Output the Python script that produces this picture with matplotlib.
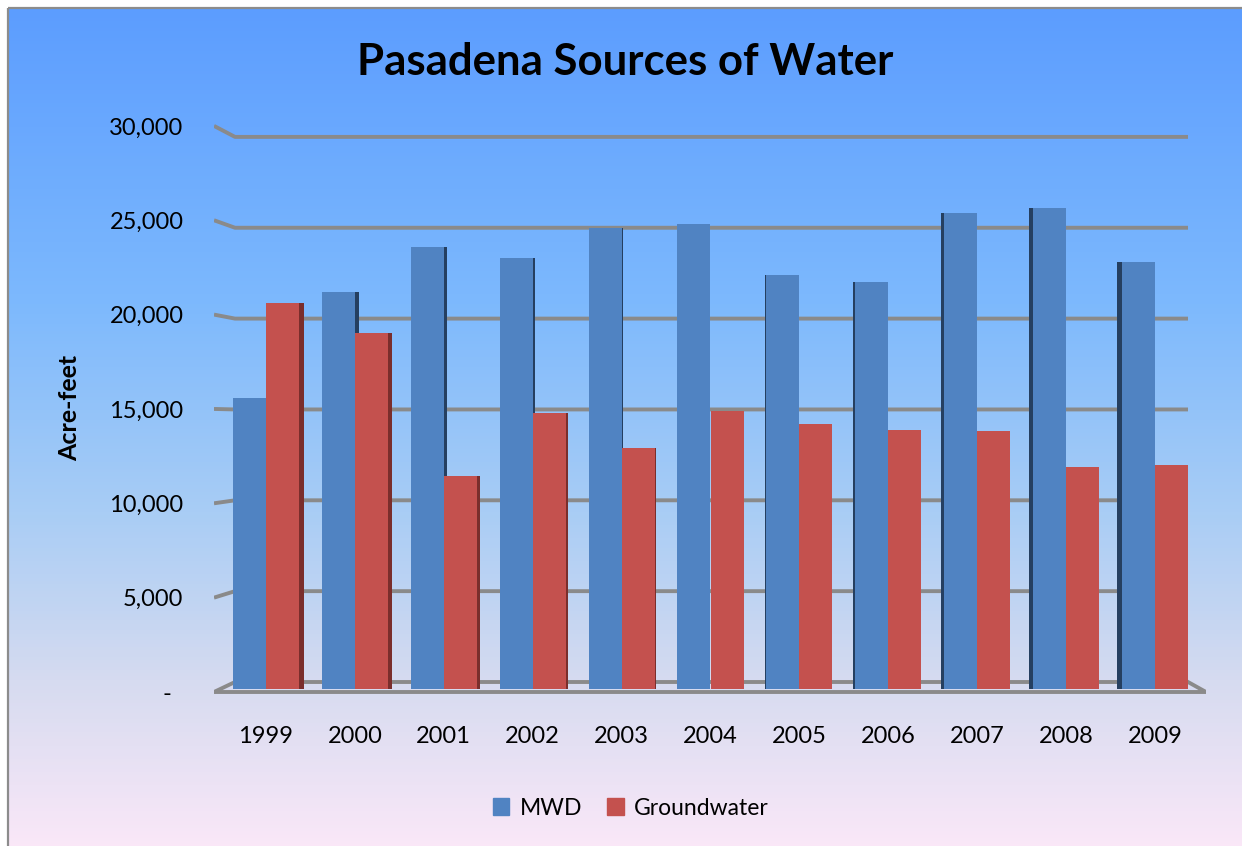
import numpy as np
import matplotlib.pyplot as plt
from matplotlib.colors import LinearSegmentedColormap
from matplotlib.patches import Rectangle

years = ["1999", "2000", "2001", "2002", "2003", "2004", "2005", "2006", "2007", "2008", "2009"]
mwd = [15600, 21300, 23700, 23100, 24700, 24900, 22200, 21800, 25500, 25800, 22900]
groundwater = [20700, 19100, 11400, 14800, 12900, 14900, 14200, 13900, 13800, 11900, 12000]
y_ticks = [0, 5000, 10000, 15000, 20000, 25000, 30000]
y_ticklabels = ["-  ", "5,000", "10,000", "15,000", "20,000", "25,000", "30,000"]

BLUE = "#5083c2"
RED = "#c4514e"
BLUE_SIDE = "#253f60"
RED_SIDE = "#7a2e2c"
GRID = "#8a8a8a"

plt.rcParams['font.family'] = ['Lato', 'DejaVu Sans']

W, H = 1242, 846
fig = plt.figure(figsize=(W / 100, H / 100), dpi=100)

# background: white page, bordered chart area with vertical gradient
bg = fig.add_axes([0, 0, 1, 1])
bg.set_xlim(0, W)
bg.set_ylim(H, 0)
bg.axis("off")
grad = LinearSegmentedColormap.from_list(
    "sky", [(0.0, "#5c9dff"), (0.35, "#7db9fd"), (0.6, "#a9cdf5"),
            (0.8, "#d6dbf0"), (1.0, "#fbe8f8")])
bg.imshow(np.linspace(0, 1, 256).reshape(-1, 1), cmap=grad, aspect="auto",
          extent=(9, W + 5, H + 5, 9), zorder=0)
bg.add_patch(Rectangle((8, 8), W, H, fill=False, edgecolor="#8c8c8c", lw=1.6, zorder=1))

# plot area: pixel box of the chart, mapped to data units
px_left, px_right, px_bottom, px_top = 214, 1206, 700, 110
cat_px0, cat_step = 266, 88.9      # first category centre and spacing (px)
base_px, bar_scale = 689, 0.01866  # bar baseline (px) and px per acre-foot

ax = fig.add_axes([px_left / W, 1 - px_bottom / H,
                   (px_right - px_left) / W, (px_bottom - px_top) / H])
ax.set_xlim((px_left - cat_px0) / cat_step, (px_right - cat_px0) / cat_step)
ax.set_ylim((base_px - px_bottom) / bar_scale, (base_px - px_top) / bar_scale)
ax.patch.set_alpha(0)
for s in ax.spines.values():
    s.set_visible(False)


def wall_y(v, depth):
    # depth 0 = front edge of the floor, 1 = back wall
    scale = 0.01887 + (0.01817 - 0.01887) * depth
    base = 692 + (682 - 692) * depth
    return (base_px - (base - v * scale)) / bar_scale


x_front = ax.get_xlim()
x_back = ((235 - cat_px0) / cat_step, (1188 - cat_px0) / cat_step)

# back wall gridlines with the short left-wall stubs
for v in y_ticks:
    ax.plot([x_front[0], x_back[0], x_back[1]], [wall_y(v, 0), wall_y(v, 1), wall_y(v, 1)],
            color=GRID, lw=2.8, solid_capstyle="butt", zorder=1)
# floor front edge and right corner
ax.plot([x_front[0], x_front[1], x_back[1]], [wall_y(0, 0), wall_y(0, 0), wall_y(0, 1)],
        color=GRID, lw=2.8, solid_joinstyle="miter", zorder=1)

x = np.arange(len(years))
bw = 33 / cat_step
ax.bar(x - bw / 2, mwd, bw, color=BLUE, zorder=3)
ax.bar(x + bw / 2, groundwater, bw, color=RED, zorder=3)

# thin side faces give the columns their depth
for i in x:
    side = abs(i - 5) / cat_step
    if side == 0:
        continue
    if i < 5:
        ax.bar(i + bw, groundwater[i], side, align="edge", color=RED_SIDE, zorder=3)
        ax.bar(i, mwd[i], side, align="edge", color=BLUE_SIDE, zorder=2.5)
    else:
        ax.bar(i - bw, mwd[i], -side, align="edge", color=BLUE_SIDE, zorder=3)

ax.set_xticks(x, years, fontsize=17)
ax.set_yticks([wall_y(v, 0) for v in y_ticks], y_ticklabels, fontsize=17)
ax.tick_params(axis="x", length=0, pad=19)
ax.tick_params(axis="y", length=0, pad=22)

fig.text(625 / W, 1 - 62 / H, "Pasadena Sources of Water", ha="center", va="center",
         fontsize=31.5, fontweight="bold")
fig.text(70 / W, 1 - 408 / H, "Acre-feet", ha="center", va="center", rotation=90,
         fontsize=18, fontweight="bold")

handles = [Rectangle((0, 0), 1, 1, color=BLUE), Rectangle((0, 0), 1, 1, color=RED)]
fig.legend(handles, ["MWD", "Groundwater"], loc="center", bbox_to_anchor=(631 / W, 1 - 808 / H),
           ncol=2, frameon=False, fontsize=16.5, handlelength=0.7, handleheight=0.7,
           handletextpad=0.45, columnspacing=1.1)

fig.savefig("out.png", dpi=100)
